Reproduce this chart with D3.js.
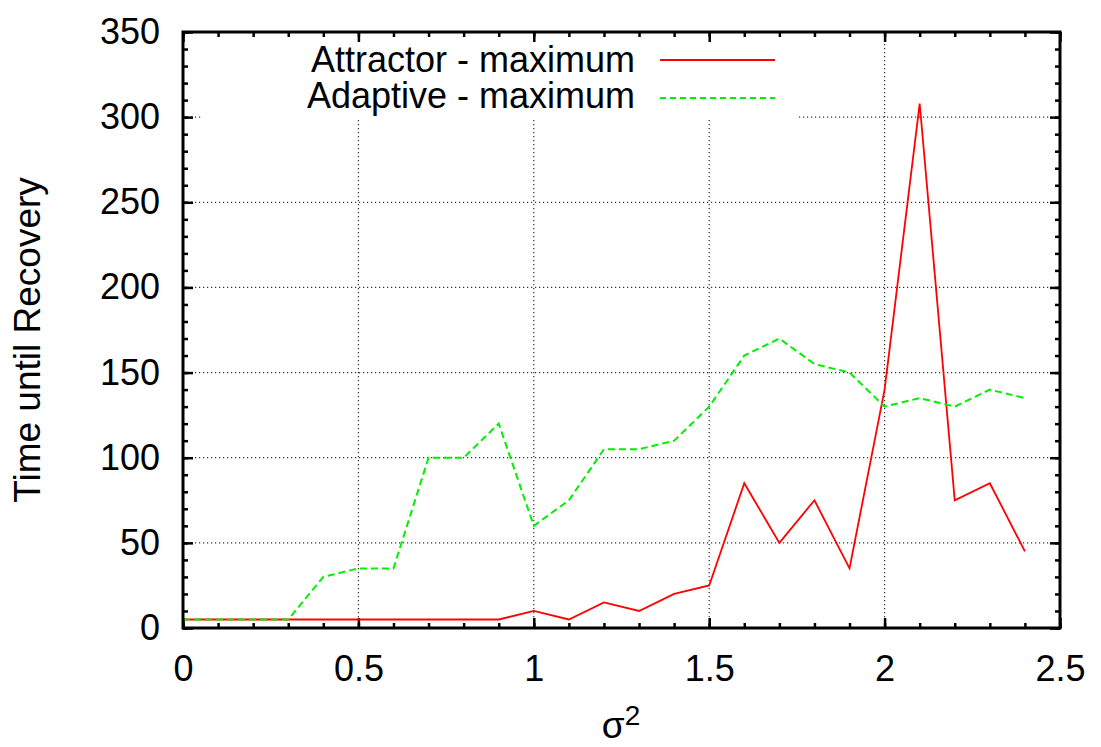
<!DOCTYPE html>
<html>
<head>
<meta charset="utf-8">
<script src="https://cdn.jsdelivr.net/npm/d3@7/dist/d3.min.js"></script>
<style>
  body { margin: 0; background: #fff; }
  text { font-family: "Liberation Sans", Arial, sans-serif; fill: #000; }
</style>
</head>
<body>
<svg id="chart" width="1101" height="747"></svg>
<script>
// values: sigma^2 on x, time until recovery on y
var sigma = [0, 0.1, 0.2, 0.3, 0.4, 0.5, 0.6, 0.7, 0.8, 0.9, 1.0, 1.1, 1.2,
             1.3, 1.4, 1.5, 1.6, 1.7, 1.8, 1.9, 2.0, 2.1, 2.2, 2.3, 2.4];
var attractorMax = [5, 5, 5, 5, 5, 5, 5, 5, 5, 5, 10, 5, 15,
                    10, 20, 25, 85, 50, 75, 35, 140, 308, 75, 85, 45];
var adaptiveMax = [5, 5, 5, 5, 30, 35, 35, 100, 100, 120, 60, 75, 105,
                   105, 110, 130, 160, 170, 155, 150, 130, 135, 130, 140, 135];
var seriesNames = ['Attractor - maximum', 'Adaptive - maximum'];
var xTickValues = [0, 0.5, 1, 1.5, 2, 2.5];
var yTickValues = [0, 50, 100, 150, 200, 250, 300, 350];

var svg = d3.select('#chart'),
    plotLeft = 183, plotRight = 1060, plotTop = 32, plotBottom = 628;

var x = d3.scaleLinear().domain([0, 2.5]).range([plotLeft, plotRight]);
var y = d3.scaleLinear().domain([0, 350]).range([plotBottom, plotTop]);

var fmt = function (d) { return String(d); };

// dotted grid
var grid = svg.append('g').attr('class', 'grid');
grid.selectAll('line.gx')
  .data(xTickValues.slice(1, -1))
  .enter().append('line')
  .attr('class', 'gx')
  .attr('x1', x).attr('x2', x)
  .attr('y1', plotTop).attr('y2', plotBottom);
grid.selectAll('line.gy')
  .data(yTickValues.slice(1, -1))
  .enter().append('line')
  .attr('class', 'gy')
  .attr('y1', y).attr('y2', y)
  .attr('x1', plotLeft).attr('x2', plotRight);
grid.selectAll('line')
  .attr('stroke', '#333')
  .attr('stroke-width', 1.2)
  .attr('stroke-dasharray', '1.2,2.8');

// legend box hides the grid behind it
svg.append('rect')
  .attr('x', 203).attr('y', plotTop + 1)
  .attr('width', 594).attr('height', 85)
  .attr('fill', '#fff');

// axes: ticks point inward on all four sides
function styleAxis(g) {
  g.select('.domain').remove();
  g.selectAll('.tick line').attr('stroke', '#000').attr('stroke-width', 2.5);
  g.selectAll('.tick text').attr('font-size', 36);
}

svg.append('g')
  .attr('transform', 'translate(0,' + plotBottom + ')')
  .call(d3.axisBottom(x).tickValues(xTickValues).tickFormat(fmt).tickSize(-10).tickPadding(27))
  .call(styleAxis);
svg.append('g')
  .attr('transform', 'translate(0,' + plotBottom + ')')
  .call(d3.axisBottom(x).ticks(25).tickFormat('').tickSize(-5))
  .call(styleAxis);
svg.append('g')
  .attr('transform', 'translate(0,' + plotTop + ')')
  .call(d3.axisTop(x).tickValues(xTickValues).tickFormat('').tickSize(-10))
  .call(styleAxis);
svg.append('g')
  .attr('transform', 'translate(0,' + plotTop + ')')
  .call(d3.axisTop(x).ticks(25).tickFormat('').tickSize(-5))
  .call(styleAxis);

svg.append('g')
  .attr('transform', 'translate(' + plotLeft + ',0)')
  .call(d3.axisLeft(y).tickValues(yTickValues).tickFormat(fmt).tickSize(-10).tickPadding(23))
  .call(styleAxis);
svg.append('g')
  .attr('transform', 'translate(' + plotLeft + ',0)')
  .call(d3.axisLeft(y).ticks(35).tickFormat('').tickSize(-5))
  .call(styleAxis);
svg.append('g')
  .attr('transform', 'translate(' + plotRight + ',0)')
  .call(d3.axisRight(y).tickValues(yTickValues).tickFormat('').tickSize(-10))
  .call(styleAxis);
svg.append('g')
  .attr('transform', 'translate(' + plotRight + ',0)')
  .call(d3.axisRight(y).ticks(35).tickFormat('').tickSize(-5))
  .call(styleAxis);

// data lines
var line = d3.line()
  .x(function (d, i) { return x(sigma[i]); })
  .y(function (d) { return y(d); });

svg.append('path')
  .datum(attractorMax)
  .attr('d', line)
  .attr('fill', 'none')
  .attr('stroke', '#ff0000')
  .attr('stroke-width', 1.8);

svg.append('path')
  .datum(adaptiveMax)
  .attr('d', line)
  .attr('fill', 'none')
  .attr('stroke', '#00f000')
  .attr('stroke-width', 2)
  .attr('stroke-dasharray', '7,4');

// legend
var legend = svg.append('g');
var legendRows = [
  {name: seriesNames[0], color: '#ff0000', dash: null, ty: 72, ly: 60},
  {name: seriesNames[1], color: '#00f000', dash: '6,4', ty: 108, ly: 98}
];
legendRows.forEach(function (r) {
  legend.append('text')
    .attr('x', 635).attr('y', r.ty)
    .attr('text-anchor', 'end')
    .attr('font-size', 36)
    .text(r.name);
  legend.append('line')
    .attr('x1', 660).attr('x2', 775)
    .attr('y1', r.ly).attr('y2', r.ly)
    .attr('stroke', r.color)
    .attr('stroke-width', 1.8)
    .attr('stroke-dasharray', r.dash);
});

// border
svg.append('rect')
  .attr('x', plotLeft).attr('y', plotTop)
  .attr('width', plotRight - plotLeft).attr('height', plotBottom - plotTop)
  .attr('fill', 'none')
  .attr('stroke', '#000')
  .attr('stroke-width', 3);

// axis titles
svg.append('text')
  .attr('transform', 'translate(40,340) rotate(-90)')
  .attr('text-anchor', 'middle')
  .attr('font-size', 37)
  .text('Time until Recovery');

var xl = svg.append('text')
  .attr('x', 621).attr('y', 738)
  .attr('text-anchor', 'middle')
  .attr('font-size', 37);
xl.append('tspan').text('σ');
xl.append('tspan').attr('dy', -13).attr('font-size', 28).text('2');
</script>
</body>
</html>
